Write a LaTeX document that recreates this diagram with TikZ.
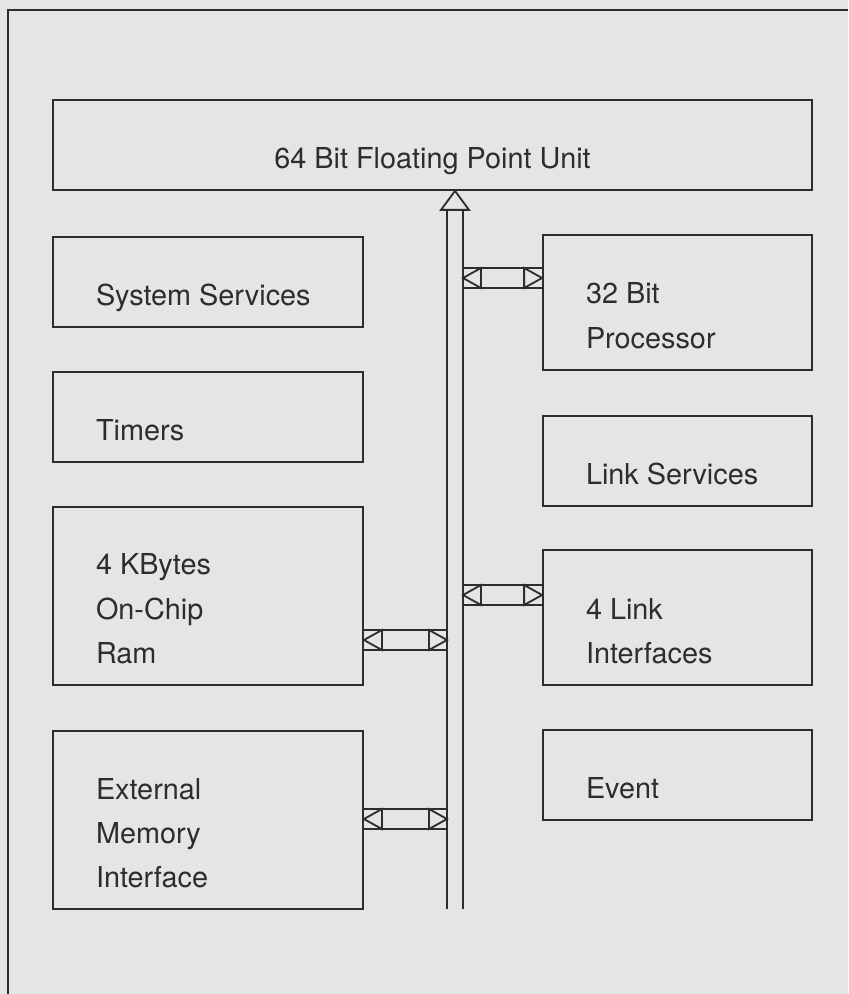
\documentclass[tikz,border=0pt]{standalone}
\usepackage{fontspec}
\setmainfont{TeX Gyre Heros}
\usepackage{tikz}
\usepackage{xcolor}

\definecolor{paper}{RGB}{229,229,229}
\definecolor{ink}{RGB}{45,45,45}

% double line link with an open head at each end
\newcommand{\dlink}[2]{%
\draw ([shift={(0,-10)}]#1) -- ([shift={(0,-10)}]#2);
\draw ([shift={(0,10)}]#1) -- ([shift={(0,10)}]#2);
\draw ([shift={(18,-10)}]#1) -- (#1) -- ([shift={(18,10)}]#1) -- cycle;
\draw ([shift={(-18,-10)}]#2) -- (#2) -- ([shift={(-18,10)}]#2) -- cycle;}

\tikzset{
unit/.style 2 args={draw=ink, line width=1.3pt, minimum width=#1*0.25mm, minimum height=#2*0.25mm, inner sep=0pt},
lbl/.style={text=ink, inner sep=0pt, text depth=0pt, align=left, anchor=south west,
  font={\fontsize{20.5}{31.3}\selectfont}}
}

\begin{document}
\begin{tikzpicture}[x=0.25mm,y=-0.25mm,line width=1.3pt,draw=ink,line join=miter]
\useasboundingbox (0,0) rectangle (848,994);
\fill[paper] (0,0) rectangle (848,994);
\draw[ink] (848,10) -| (8,994);

% blocks
\node[unit={759}{90}] (fpu) at (432.5,145) {};
\node[unit={310}{90}] (sys) at (208,282) {};
\node[unit={310}{90}] (tmr) at (208,417) {};
\node[unit={310}{178}] (ram) at (208,596) {};
\node[unit={310}{178}] (emi) at (208,820) {};
\node[unit={269}{135}] (cpu) at (677.5,302.5) {};
\node[unit={269}{90}] (lsv) at (677.5,461) {};
\node[unit={269}{135}] (lnk) at (677.5,617.5) {};
\node[unit={269}{90}] (evt) at (677.5,775) {};

% texts
\node[lbl, anchor=south] (fpu-t) at ([yshift=21*0.25mm]fpu.south) {64 Bit Floating Point Unit};
\node[lbl] (sys-t) at ([shift={(43,-22)}]sys.south west) {System Services};
\node[lbl] (tmr-t) at ([shift={(43,-22)}]tmr.south west) {Timers};
\node[lbl] (ram-t) at ([shift={(43,-22)}]ram.south west) {4 KBytes\\On-Chip\\Ram};
\node[lbl] (emi-t) at ([shift={(43,-22)}]emi.south west) {External\\Memory\\Interface};
\node[lbl] (cpu-t) at ([shift={(43,-22)}]cpu.south west) {32 Bit\\Processor};
\node[lbl] (lsv-t) at ([shift={(43,-22)}]lsv.south west) {Link Services};
\node[lbl] (lnk-t) at ([shift={(43,-22)}]lnk.south west) {4 Link\\Interfaces};
\node[lbl] (evt-t) at ([shift={(43,-22)}]evt.south west) {Event};

% bus
\coordinate (busbot) at (455,909);
\coordinate (bustop) at (fpu.south -| busbot);
\draw[ink] ([shift={(-8,0)}]busbot) -- ([shift={(-8,19)}]bustop);
\draw[ink] ([shift={(8,0)}]busbot) -- ([shift={(8,19)}]bustop);
\draw[ink] ([shift={(-14,19)}]bustop) -- (bustop) -- ([shift={(14,19)}]bustop) -- cycle;

% links to the bus
\coordinate (cpu-a) at (463,278);
\coordinate (cpu-b) at (cpu.west |- cpu-a);
\coordinate (lnk-a) at (463,595);
\coordinate (lnk-b) at (lnk.west |- lnk-a);
\coordinate (ram-b) at (447,640);
\coordinate (ram-a) at (ram.east |- ram-b);
\coordinate (emi-b) at (447,819);
\coordinate (emi-a) at (emi.east |- emi-b);
\begin{scope}[draw=ink]
\dlink{cpu-a}{cpu-b}
\dlink{lnk-a}{lnk-b}
\dlink{ram-a}{ram-b}
\dlink{emi-a}{emi-b}
\end{scope}
\end{tikzpicture}
\end{document}
